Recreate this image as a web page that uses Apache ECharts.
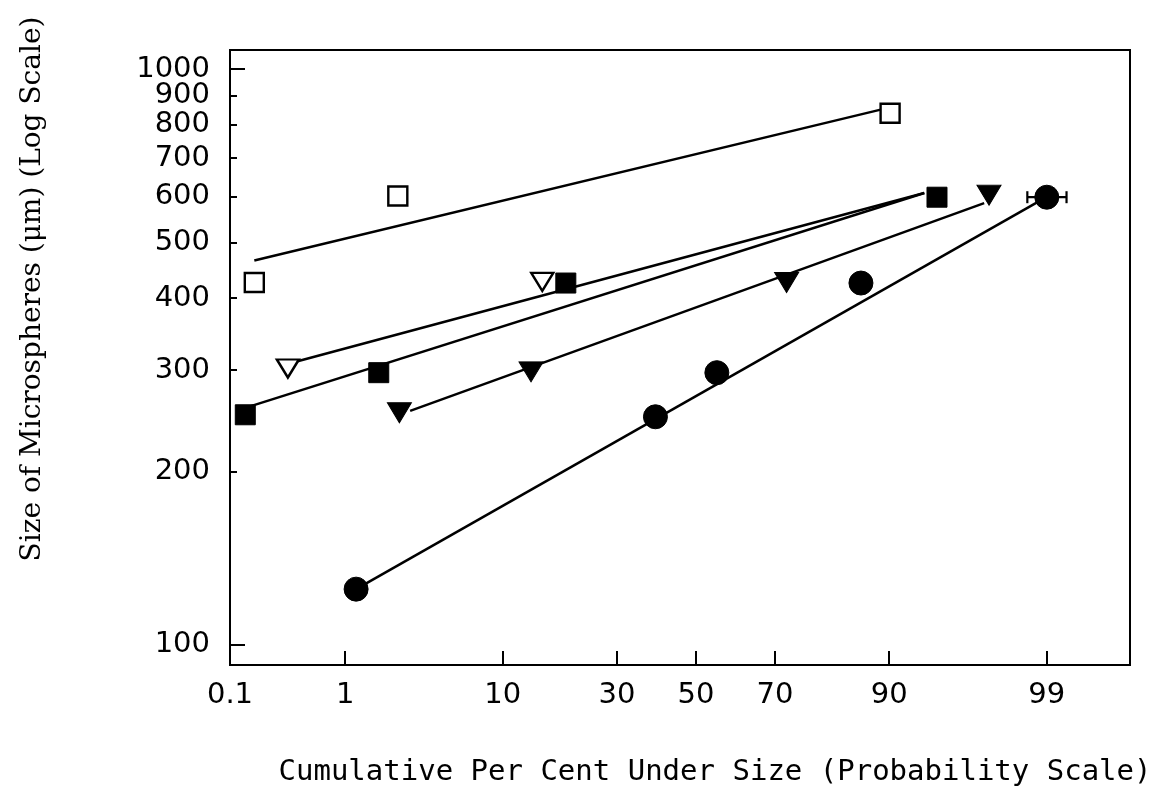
<!DOCTYPE html>
<html>
<head>
<meta charset="utf-8">
<script src="https://cdn.jsdelivr.net/npm/echarts@6/dist/echarts.min.js"></script>
<style>
  html, body { margin: 0; padding: 0; background: #fff; }
  #chart { width: 1157px; height: 789px; }
</style>
</head>
<body>
<div id="chart"></div>
<script>
// Axis tick labels
const xTickPercents = [0.1, 1, 10, 30, 50, 70, 90, 99];
const yTickValues = [100, 200, 300, 400, 500, 600, 700, 800, 900, 1000];
const yMajorTicks = [100, 1000];

// Open squares
const openSquarePct = [0.17, 2.4, 90.1];
const openSquareSize = [426, 602, 838];
const openSquareFitPct = [0.17, 89.1];
const openSquareFitSize = [465, 851];

// Open down-triangles
const openTriPct = [0.34, 15.4];
const openTriSize = [302, 427];
const openTriFitPct = [0.39, 93.5];
const openTriFitSize = [310, 609];

// Filled squares
const filledSquarePct = [0.14, 1.77, 19.4, 94.5];
const filledSquareSize = [251, 297, 425, 599];
const filledSquareFitPct = [0.14, 93.5];
const filledSquareFitSize = [258, 609];

// Filled down-triangles
const filledTriPct = [2.46, 13.7, 72.6, 97.4];
const filledTriSize = [253, 298, 426, 604];
const filledTriFitPct = [2.9, 97.2];
const filledTriFitSize = [255, 585];

// Filled circles, with a horizontal error bar on the last point
const circlePct = [1.21, 39.4, 55.5, 86.3, 99.0];
const circleSize = [125, 249, 297, 425, 599];
const circleFitPct = [1.21, 99.0];
const circleFitSize = [125, 600];
const circleErrPct = [98.6, 99.3];
const circleErrSize = [599];

// Axis extents
const xRangePct = [0.1, 99.8];
const yRange = [92.3, 1079];

// Inverse standard normal CDF (Acklam's rational approximation)
function probit(p) {
  const a = [-3.969683028665376e+01, 2.209460984245205e+02, -2.759285104469687e+02,
             1.383577518672690e+02, -3.066479806614716e+01, 2.506628277459239e+00];
  const b = [-5.447609879822406e+01, 1.615858368580409e+02, -1.556989798598866e+02,
             6.680131188771972e+01, -1.328068155288572e+01];
  const c = [-7.784894002430293e-03, -3.223964580411365e-01, -2.400758277161838e+00,
             -2.549732539343734e+00, 4.374664141464968e+00, 2.938163982698783e+00];
  const d = [7.784695709041462e-03, 3.224671290700398e-01, 2.445134137142996e+00,
             3.754408661907416e+00];
  const pl = 0.02425, ph = 1 - pl;
  let q, r;
  if (p < pl) {
    q = Math.sqrt(-2 * Math.log(p));
    return (((((c[0]*q+c[1])*q+c[2])*q+c[3])*q+c[4])*q+c[5]) /
           ((((d[0]*q+d[1])*q+d[2])*q+d[3])*q+1);
  }
  if (p <= ph) {
    q = p - 0.5; r = q * q;
    return (((((a[0]*r+a[1])*r+a[2])*r+a[3])*r+a[4])*r+a[5])*q /
           (((((b[0]*r+b[1])*r+b[2])*r+b[3])*r+b[4])*r+1);
  }
  q = Math.sqrt(-2 * Math.log(1 - p));
  return -(((((c[0]*q+c[1])*q+c[2])*q+c[3])*q+c[4])*q+c[5]) /
          ((((d[0]*q+d[1])*q+d[2])*q+d[3])*q+1);
}

// Probability-scale x (normal deviate) and log-scale y coordinates
const px = pct => probit(pct / 100);
const ly = v => Math.log10(v);
const pairs = (pcts, sizes) => pcts.map((p, i) => [px(p), ly(sizes[i])]);

const xTickZ = xTickPercents.map(px);
const yTickLog = yTickValues.map(ly);
const yMajorLog = yMajorTicks.map(ly);
// The upper y labels sit close together, so they are shared between two
// overlaid y axes (alternate labels) to keep every one of them visible.
const yLabelsA = yTickLog.filter((_, i) => i % 2 === 0);
const yLabelsB = yTickLog.filter((_, i) => i % 2 === 1);

const labelFont = { color: '#000', fontFamily: 'DejaVu Sans', fontSize: 29 };
const yLabel = values => ({
  ...labelFont, margin: 20, customValues: values, hideOverlap: false,
  showMinLabel: true, showMaxLabel: true,
  formatter: v => String(Math.round(Math.pow(10, v)))
});

function fitLine(pcts, sizes) {
  return {
    type: 'line', data: pairs(pcts, sizes), symbol: 'none', z: 2,
    lineStyle: { color: '#000', width: 2.5 }, silent: true
  };
}
function markers(pcts, sizes, symbol, size, filled, rotate) {
  return {
    type: 'scatter', data: pairs(pcts, sizes), symbol: symbol, symbolSize: size,
    symbolRotate: rotate || 0, z: 4,
    itemStyle: filled
      ? { color: '#000', borderColor: '#000', borderWidth: 1, opacity: 1 }
      : { color: '#fff', borderColor: '#000', borderWidth: 2.4, opacity: 1 }
  };
}

const errData = circleErrSize.map(s => [px(circleErrPct[0]), px(circleErrPct[1]), ly(s)]);

const option = {
  animation: false,
  backgroundColor: '#fff',
  grid: {
    left: 230, right: 27, top: 50, bottom: 124,
    show: true, borderColor: '#000', borderWidth: 2, backgroundColor: 'transparent'
  },
  xAxis: {
    type: 'value', min: px(xRangePct[0]), max: px(xRangePct[1]),
    splitLine: { show: false },
    axisLine: { show: true, onZero: false, lineStyle: { color: '#000', width: 2 } },
    axisTick: { show: true, inside: true, length: 14, customValues: xTickZ,
                lineStyle: { color: '#000', width: 2 } },
    axisLabel: {
      ...labelFont, margin: 16, customValues: xTickZ, hideOverlap: false,
      showMinLabel: true, showMaxLabel: true,
      formatter: v => {
        const i = xTickZ.findIndex(z => Math.abs(z - v) < 1e-9);
        return i >= 0 ? String(xTickPercents[i]) : '';
      }
    }
  },
  yAxis: [
    {
      type: 'value', min: ly(yRange[0]), max: ly(yRange[1]),
      splitLine: { show: false },
      axisLine: { show: true, onZero: false, lineStyle: { color: '#000', width: 2 } },
      axisTick: { show: true, inside: true, length: 7, customValues: yTickLog,
                  lineStyle: { color: '#000', width: 2 } },
      axisLabel: yLabel(yLabelsA)
    },
    {
      type: 'value', position: 'left', min: ly(yRange[0]), max: ly(yRange[1]),
      splitLine: { show: false },
      axisLine: { show: false, onZero: false },
      axisTick: { show: true, inside: true, length: 15, customValues: yMajorLog,
                  lineStyle: { color: '#000', width: 2 } },
      axisLabel: yLabel(yLabelsB)
    }
  ],
  graphic: [
    {
      type: 'text', x: 33, y: 289, rotation: Math.PI / 2,
      style: {
        text: 'Size of Microspheres (\u03bcm) (Log Scale)',
        fill: '#000', font: '28px "DejaVu Serif"',
        align: 'center', verticalAlign: 'middle'
      }
    },
    {
      type: 'text', x: 715, y: 772,
      style: {
        text: 'Cumulative Per Cent Under Size (Probability Scale)',
        fill: '#000', font: '29px "DejaVu Sans Mono"',
        align: 'center', verticalAlign: 'middle'
      }
    }
  ],
  series: [
    fitLine(openSquareFitPct, openSquareFitSize),
    fitLine(openTriFitPct, openTriFitSize),
    fitLine(filledSquareFitPct, filledSquareFitSize),
    fitLine(filledTriFitPct, filledTriFitSize),
    fitLine(circleFitPct, circleFitSize),
    {
      type: 'custom', z: 3, silent: true,
      data: errData,
      renderItem: (params, api) => {
        const a = api.coord([api.value(0), api.value(2)]);
        const b = api.coord([api.value(1), api.value(2)]);
        const st = { stroke: '#000', lineWidth: 2.2 };
        return {
          type: 'group',
          children: [
            { type: 'line', shape: { x1: a[0], y1: a[1], x2: b[0], y2: b[1] }, style: st },
            { type: 'line', shape: { x1: a[0], y1: a[1] - 6, x2: a[0], y2: a[1] + 6 }, style: st },
            { type: 'line', shape: { x1: b[0], y1: b[1] - 6, x2: b[0], y2: b[1] + 6 }, style: st }
          ]
        };
      }
    },
    markers(openSquarePct, openSquareSize, 'rect', 19, false),
    markers(openTriPct, openTriSize, 'triangle', [22, 18], false, 180),
    markers(filledSquarePct, filledSquareSize, 'rect', 20, true),
    markers(filledTriPct, filledTriSize, 'triangle', [24, 20], true, 180),
    markers(circlePct, circleSize, 'circle', 24, true)
  ]
};

echarts.init(document.getElementById('chart'), null, { renderer: 'canvas' }).setOption(option);
</script>
</body>
</html>
